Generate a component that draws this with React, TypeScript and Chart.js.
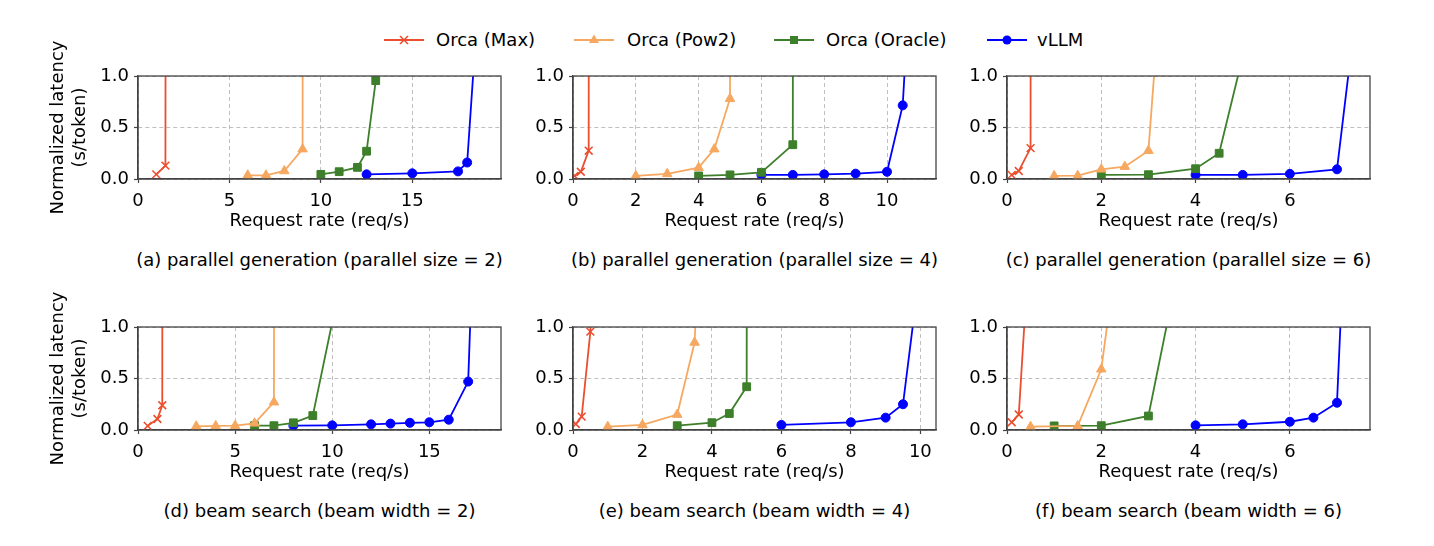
import React, { useEffect, useRef } from 'react';
import { Chart, registerables } from 'chart.js';

Chart.register(...registerables);

type Pt = [number, number];

// ---------- data (request rate req/s, normalized latency s/token) ----------
// (a) parallel generation, parallel size = 2
const A_MAX: Pt[] = [[1.0, 0.045], [1.5, 0.13], [1.6, 20]];
const A_POW2: Pt[] = [[6, 0.036], [7, 0.036], [8, 0.078], [9, 0.29], [9.1, 20]];
const A_ORACLE: Pt[] = [[10, 0.045], [11, 0.071], [12, 0.113], [12.5, 0.27], [13, 0.955], [13.1, 20]];
const A_VLLM: Pt[] = [[12.5, 0.045], [15, 0.055], [17.5, 0.074], [18, 0.16], [18.5, 1.46]];
// (b) parallel generation, parallel size = 4
const B_MAX: Pt[] = [[0.05, 0.03], [0.25, 0.07], [0.5, 0.275], [0.53, 20]];
const B_POW2: Pt[] = [[2, 0.03], [3, 0.05], [4, 0.11], [4.5, 0.29], [5, 0.78], [5.05, 20]];
const B_ORACLE: Pt[] = [[4, 0.03], [5, 0.04], [6, 0.065], [7, 0.333], [7.05, 20]];
const B_VLLM: Pt[] = [[6, 0.04], [7, 0.04], [8, 0.045], [9, 0.052], [10, 0.07], [10.5, 0.715], [10.6, 1.25]];
// (c) parallel generation, parallel size = 6
const C_MAX: Pt[] = [[0.1, 0.04], [0.25, 0.078], [0.5, 0.3], [0.52, 20]];
const C_POW2: Pt[] = [[1, 0.03], [1.5, 0.032], [2, 0.094], [2.5, 0.12], [3, 0.275], [3.2, 1.5]];
const C_ORACLE: Pt[] = [[2, 0.04], [3, 0.042], [4, 0.1], [4.5, 0.25], [5, 1.19]];
const C_VLLM: Pt[] = [[4, 0.04], [5, 0.04], [6, 0.05], [7, 0.094], [7.5, 2.0]];
// (d) beam search, beam width = 2
const D_MAX: Pt[] = [[0.5, 0.04], [1.0, 0.107], [1.25, 0.24], [1.3, 20]];
const D_POW2: Pt[] = [[3, 0.036], [4, 0.04], [5, 0.042], [6, 0.065], [7, 0.27], [7.05, 20]];
const D_ORACLE: Pt[] = [[6, 0.042], [7, 0.042], [8, 0.07], [9, 0.14], [10.5, 1.5]];
const D_VLLM: Pt[] = [[8, 0.042], [10, 0.045], [12, 0.055], [13, 0.062], [14, 0.07], [15, 0.075], [16, 0.1], [17, 0.47], [17.15, 1.27]];
// (e) beam search, beam width = 4
const E_MAX: Pt[] = [[0.08, 0.058], [0.25, 0.13], [0.5, 0.955], [0.55, 2.0]];
const E_POW2: Pt[] = [[1, 0.032], [2, 0.049], [3, 0.15], [3.5, 0.85], [3.6, 1.6]];
const E_ORACLE: Pt[] = [[3, 0.042], [4, 0.071], [4.5, 0.16], [5, 0.42], [5.05, 20]];
const E_VLLM: Pt[] = [[6, 0.049], [8, 0.075], [9, 0.12], [9.5, 0.25], [10, 1.6]];
// (f) beam search, beam width = 6
const F_MAX: Pt[] = [[0.1, 0.075], [0.25, 0.15], [0.5, 2.0]];
const F_POW2: Pt[] = [[0.5, 0.032], [1.5, 0.04], [2, 0.59], [2.5, 2.3]];
const F_ORACLE: Pt[] = [[1, 0.04], [2, 0.042], [3, 0.136], [4, 2.4]];
const F_VLLM: Pt[] = [[4, 0.045], [5, 0.055], [6, 0.08], [6.5, 0.12], [7, 0.265], [7.1, 1.3]];

const SERIES_LABELS = ['Orca (Max)', 'Orca (Pow2)', 'Orca (Oracle)', 'vLLM'];
const Y_TICKS = [0, 0.5, 1.0];
const X_TICKS_A = [0, 5, 10, 15];
const X_TICKS_B = [0, 2, 4, 6, 8, 10];
const X_TICKS_C = [0, 2, 4, 6];
const X_MAX = [19.85, 11.56, 7.7, 18.69, 10.45, 7.7];
const CAPTIONS = [
  '(a) parallel generation (parallel size = 2)',
  '(b) parallel generation (parallel size = 4)',
  '(c) parallel generation (parallel size = 6)',
  '(d) beam search (beam width = 2)',
  '(e) beam search (beam width = 4)',
  '(f) beam search (beam width = 6)',
];
const X_TITLE = 'Request rate (req/s)';
const Y_TITLE = ['Normalized latency', '(s/token)'];

// ---------- styles ----------
const FONT = "'DejaVu Sans', 'Liberation Sans', sans-serif";
const COLORS = ['#ea4f30', '#f6a860', '#3d7f2a', '#0000ff'];
const POINT_STYLES = ['crossRot', 'triangle', 'rect', 'circle'];
const POINT_RADII = [5.5, 5.5, 5.5, 4.5];
const GRID = 'rgba(170,170,170,0.75)';
const SPINE = '#444444';

const PANELS = [
  { series: [A_MAX, A_POW2, A_ORACLE, A_VLLM], xTicks: X_TICKS_A },
  { series: [B_MAX, B_POW2, B_ORACLE, B_VLLM], xTicks: X_TICKS_B },
  { series: [C_MAX, C_POW2, C_ORACLE, C_VLLM], xTicks: X_TICKS_C },
  { series: [D_MAX, D_POW2, D_ORACLE, D_VLLM], xTicks: X_TICKS_A },
  { series: [E_MAX, E_POW2, E_ORACLE, E_VLLM], xTicks: X_TICKS_B },
  { series: [F_MAX, F_POW2, F_ORACLE, F_VLLM], xTicks: X_TICKS_C },
];

// layout
const AREA_LEFT = [138, 573, 1007];
const AREA_TOP = [76, 327];
const AREA_W = 363;
const AREA_H = 103;
const PAD_TOP = 40;
const PAD_RIGHT = 10;
const X_AXIS_H = 53;
const CAPTION_Y = [260, 511];

const framePlugin = {
  id: 'frame',
  afterDatasetsDraw(chart: any) {
    const { ctx, chartArea } = chart;
    ctx.save();
    ctx.strokeStyle = SPINE;
    ctx.lineWidth = 1.3;
    ctx.strokeRect(chartArea.left, chartArea.top, chartArea.right - chartArea.left, chartArea.bottom - chartArea.top);
    ctx.restore();
  },
};

function Panel({ index }: { index: number }) {
  const ref = useRef<HTMLCanvasElement>(null);
  const row = Math.floor(index / 3);
  const col = index % 3;
  const yW = col === 0 ? 90 : 50;
  const left = AREA_LEFT[col] - yW;
  const top = AREA_TOP[row] - PAD_TOP;
  const width = yW + AREA_W + PAD_RIGHT;
  const height = PAD_TOP + AREA_H + X_AXIS_H;
  const panel = PANELS[index];

  useEffect(() => {
    if (!ref.current) return;
    const datasets = panel.series.map((pts, i) => ({
      label: SERIES_LABELS[i],
      data: pts.map(([x, y]) => ({ x, y })),
      showLine: true,
      borderColor: COLORS[i],
      backgroundColor: COLORS[i],
      borderWidth: 1.8,
      pointStyle: POINT_STYLES[i],
      pointRadius: (c: any) => (c.raw && c.raw.y > 1 ? 0 : POINT_RADII[i]),
      pointBorderWidth: i === 0 ? 1.6 : 1,
      pointBorderColor: COLORS[i],
      pointBackgroundColor: COLORS[i],
      tension: 0,
    }));
    const chart = new Chart(ref.current, {
      type: 'scatter',
      data: { datasets },
      plugins: [framePlugin],
      options: {
        responsive: false,
        animation: false,
        events: [],
        layout: { padding: { top: PAD_TOP, right: PAD_RIGHT, left: 0, bottom: 0 } },
        plugins: { legend: { display: false }, tooltip: { enabled: false }, title: { display: false } },
        scales: {
          x: {
            type: 'linear',
            min: 0,
            max: X_MAX[index],
            afterBuildTicks: (s: any) => {
              s.ticks = panel.xTicks.map((v) => ({ value: v }));
            },
            afterFit: (s: any) => {
              s.height = X_AXIS_H;
            },
            ticks: {
              color: '#000',
              font: { family: FONT, size: 18 },
              padding: 8,
              maxRotation: 0,
              autoSkip: false,
              callback: (v: any) => String(v),
            },
            grid: { color: GRID, lineWidth: 1, tickLength: 4, tickColor: SPINE, tickWidth: 1.2 },
            border: { display: true, color: SPINE, width: 1.3, dash: [4, 3] },
            title: { display: true, text: X_TITLE, color: '#000', padding: 0, font: { family: FONT, size: 18, lineHeight: 1.2 } },
          },
          y: {
            type: 'linear',
            min: 0,
            max: 1,
            afterBuildTicks: (s: any) => {
              s.ticks = Y_TICKS.map((v) => ({ value: v }));
            },
            afterFit: (s: any) => {
              s.width = yW;
            },
            ticks: {
              color: '#000',
              font: { family: FONT, size: 18 },
              padding: 5,
              callback: (v: any) => Number(v).toFixed(1),
            },
            grid: { color: GRID, lineWidth: 1, tickLength: 4, tickColor: SPINE, tickWidth: 1.2 },
            border: { display: true, color: SPINE, width: 1.3, dash: [4, 3] },
            title: {
              display: col === 0,
              text: Y_TITLE,
              color: '#000',
              padding: 0,
              font: { family: FONT, size: 18, lineHeight: 1.2 },
            },
          },
        },
      } as any,
    });
    return () => chart.destroy();
  }, []);

  return (
    <canvas
      ref={ref}
      width={width}
      height={height}
      style={{ position: 'absolute', left, top, width, height }}
    />
  );
}

function LegendIcon({ i }: { i: number }) {
  const c = COLORS[i];
  const cx = 20;
  const cy = 10;
  let marker: any = null;
  if (i === 0) {
    marker = (
      <g stroke={c} strokeWidth={1.6}>
        <line x1={cx - 4} y1={cy - 4} x2={cx + 4} y2={cy + 4} />
        <line x1={cx - 4} y1={cy + 4} x2={cx + 4} y2={cy - 4} />
      </g>
    );
  } else if (i === 1) {
    marker = <polygon points={`${cx},${cy - 5.5} ${cx + 5},${cy + 3} ${cx - 5},${cy + 3}`} fill={c} />;
  } else if (i === 2) {
    marker = <rect x={cx - 4} y={cy - 4} width={8} height={8} fill={c} />;
  } else {
    marker = <circle cx={cx} cy={cy} r={4.5} fill={c} />;
  }
  return (
    <svg width={40} height={20} style={{ position: 'absolute', left: 0, top: 0 }}>
      <line x1={0} y1={cy} x2={40} y2={cy} stroke={c} strokeWidth={1.8} />
      {marker}
    </svg>
  );
}

const LEGEND_X = [384, 574, 774, 987];
const LEGEND_TEXT_X = [436, 627, 826, 1037];
const LEGEND_Y = 40;

export default function App() {
  return (
    <div style={{ position: 'absolute', left: 0, top: 0, width: 1434, height: 546, background: '#fff', fontFamily: FONT }}>
      {SERIES_LABELS.map((lab, i) => (
        <React.Fragment key={lab}>
          <div style={{ position: 'absolute', left: LEGEND_X[i], top: LEGEND_Y - 10, width: 40, height: 20 }}>
            <LegendIcon i={i} />
          </div>
          <div
            style={{
              position: 'absolute',
              left: LEGEND_TEXT_X[i],
              top: LEGEND_Y - 11,
              height: 22,
              lineHeight: '22px',
              fontSize: 18,
              color: '#000',
              whiteSpace: 'nowrap',
            }}
          >
            {lab}
          </div>
        </React.Fragment>
      ))}
      {PANELS.map((_, i) => (
        <Panel key={i} index={i} />
      ))}
      {CAPTIONS.map((cap, i) => {
        const row = Math.floor(i / 3);
        const col = i % 3;
        const cx = AREA_LEFT[col] + AREA_W / 2;
        return (
          <div
            key={cap}
            style={{
              position: 'absolute',
              left: cx - 250,
              width: 500,
              top: CAPTION_Y[row] - 11,
              height: 22,
              lineHeight: '22px',
              fontSize: 18,
              textAlign: 'center',
              color: '#000',
              whiteSpace: 'nowrap',
            }}
          >
            {cap}
          </div>
        );
      })}
    </div>
  );
}
